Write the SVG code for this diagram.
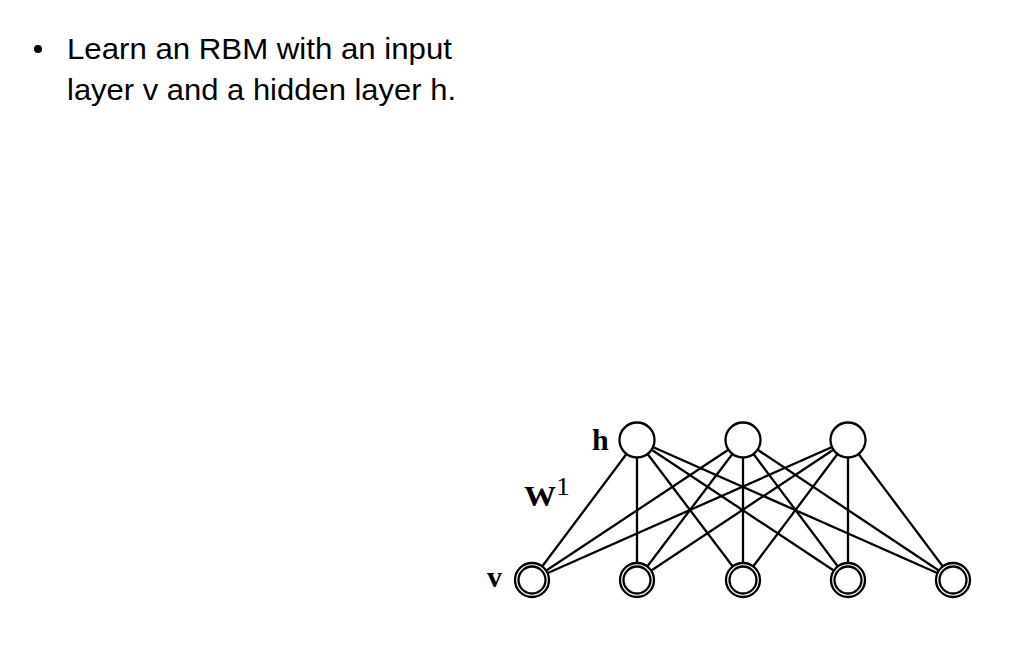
<svg xmlns="http://www.w3.org/2000/svg" width="1022" height="671" viewBox="0 0 1022 671">
<style>
.t{font-family:"Liberation Sans","Open Sans",sans-serif;font-size:29px;fill:#000}
.m{font-family:"Liberation Serif","DejaVu Serif",serif;font-weight:bold;font-size:30px;fill:#000}
.e{stroke:#000;stroke-width:2.3;fill:none}
.n{stroke:#000;stroke-width:2.3;fill:#fff}
</style>
<rect width="1022" height="671" fill="#fff"/>
<g id="text">
<circle cx="38" cy="49" r="4" fill="#000"/>
<text class="t" x="67" y="59" textLength="385" lengthAdjust="spacingAndGlyphs">Learn an RBM with an input</text>
<text class="t" x="67" y="100" textLength="389" lengthAdjust="spacingAndGlyphs">layer v and a hidden layer h.</text>
</g>
<g id="connectors">
<line class="e" x1="637" y1="440" x2="532" y2="580"/>
<line class="e" x1="637" y1="440" x2="637" y2="580"/>
<line class="e" x1="637" y1="440" x2="743" y2="580"/>
<line class="e" x1="637" y1="440" x2="848" y2="580"/>
<line class="e" x1="637" y1="440" x2="953" y2="580"/>
<line class="e" x1="743" y1="440" x2="532" y2="580"/>
<line class="e" x1="743" y1="440" x2="637" y2="580"/>
<line class="e" x1="743" y1="440" x2="743" y2="580"/>
<line class="e" x1="743" y1="440" x2="848" y2="580"/>
<line class="e" x1="743" y1="440" x2="953" y2="580"/>
<line class="e" x1="848" y1="440" x2="532" y2="580"/>
<line class="e" x1="848" y1="440" x2="637" y2="580"/>
<line class="e" x1="848" y1="440" x2="743" y2="580"/>
<line class="e" x1="848" y1="440" x2="848" y2="580"/>
<line class="e" x1="848" y1="440" x2="953" y2="580"/>
</g>
<g id="h1"><circle class="n" cx="637" cy="440" r="17.5"/></g>
<g id="h2"><circle class="n" cx="743" cy="440" r="17.5"/></g>
<g id="h3"><circle class="n" cx="848" cy="440" r="17.5"/></g>
<g id="v1"><circle class="n" cx="532" cy="580" r="17"/><circle class="e" cx="532" cy="580" r="13.5"/></g>
<g id="v2"><circle class="n" cx="637" cy="580" r="17"/><circle class="e" cx="637" cy="580" r="13.5"/></g>
<g id="v3"><circle class="n" cx="743" cy="580" r="17"/><circle class="e" cx="743" cy="580" r="13.5"/></g>
<g id="v4"><circle class="n" cx="848" cy="580" r="17"/><circle class="e" cx="848" cy="580" r="13.5"/></g>
<g id="v5"><circle class="n" cx="953" cy="580" r="17"/><circle class="e" cx="953" cy="580" r="13.5"/></g>
<g id="labels">
<text class="m" x="592" y="450">h</text>
<text class="m" x="524" y="506" textLength="46" lengthAdjust="spacingAndGlyphs">W<tspan font-weight="normal" font-size="26" dy="-11">1</tspan></text>
<text class="m" x="487" y="587">v</text>
</g>
</svg>
